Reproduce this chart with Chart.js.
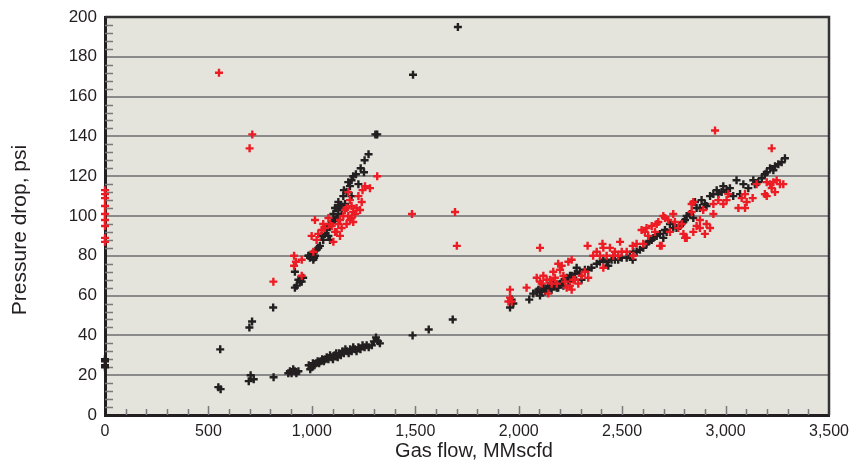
<!DOCTYPE html>
<html>
<head>
<meta charset="utf-8">
<script src="https://cdn.jsdelivr.net/npm/chart.js@4.4.1/dist/chart.umd.min.js"></script>
<style>
  body { margin: 0; background: #fff; }
  canvas { display: block; }
</style>
</head>
<body>
<canvas id="dropChart" width="849" height="461"></canvas>
<script>
// flow (MMscfd), pressure drop (psi)
const blackAxis = [[0, 28], [0, 27], [0, 25], [0, 24]];
const blackStray = [[548, 14], [559, 13], [557, 33], [695, 17], [704, 20], [719, 18], [698, 44], [711, 47],
    [813, 54], [815, 19], [1487, 40], [1565, 43], [1681, 48], [1489, 171], [1706, 195]];
const blackLow = [[886, 21], [894, 22], [902, 21], [910, 23], [918, 22], [925, 21], [935, 22],
    [985, 25], [992, 23], [999, 24], [1005, 26], [1012, 25], [1020, 26], [1028, 27], [1035, 26], [1042, 27],
    [1050, 28], [1058, 27], [1065, 28], [1072, 29], [1080, 28], [1088, 30], [1095, 29], [1102, 28], [1110, 30],
    [1118, 31], [1125, 29], [1132, 31], [1140, 30], [1148, 32], [1155, 31], [1162, 33], [1170, 32], [1178, 31],
    [1185, 33], [1192, 32], [1200, 34], [1208, 33], [1216, 32], [1225, 34], [1235, 33], [1245, 35], [1255, 34],
    [1265, 35], [1275, 34], [1290, 35], [1300, 37], [1310, 39], [1320, 37], [1329, 36]];
const blackSteep = [[918, 72], [918, 64], [927, 65], [935, 68], [943, 67], [951, 67], [958, 69], [983, 80],
    [987, 80], [991, 79], [999, 80], [1003, 81], [1007, 78], [1011, 79], [1015, 80], [1023, 83], [1031, 84],
    [1039, 85], [1047, 90], [1055, 88], [1063, 91], [1072, 93], [1080, 90], [1088, 95], [1088, 88], [1096, 97],
    [1104, 101], [1112, 98], [1112, 104], [1120, 104], [1120, 99], [1128, 107], [1128, 101], [1136, 105],
    [1144, 103], [1152, 110], [1155, 113], [1160, 106], [1168, 112], [1176, 117], [1184, 115], [1192, 118],
    [1192, 110], [1200, 120], [1213, 121], [1225, 116], [1236, 124], [1252, 122], [1255, 128], [1274, 131],
    [1307, 141], [1316, 141]];
const blackHigh = [[1958, 54], [1974, 56], [1966, 58], [2051, 58], [2070, 61], [2087, 62], [2095, 63],
    [2103, 60], [2111, 62], [2119, 64], [2127, 62], [2135, 63], [2143, 65], [2151, 64], [2159, 63], [2167, 66],
    [2175, 65], [2184, 64], [2191, 64], [2200, 66], [2208, 67], [2216, 65], [2224, 68], [2232, 69], [2240, 67],
    [2248, 70], [2256, 70], [2264, 69], [2272, 71], [2280, 74], [2296, 72], [2304, 68], [2320, 73], [2336, 73],
    [2352, 74], [2377, 76], [2393, 77], [2409, 78], [2425, 77], [2433, 75], [2449, 78], [2465, 78], [2481, 78],
    [2498, 79], [2522, 79], [2538, 80], [2554, 82], [2551, 78], [2570, 82], [2586, 83], [2602, 84], [2618, 86],
    [2627, 87], [2643, 88], [2651, 89], [2667, 90], [2683, 91], [2699, 89], [2707, 93], [2715, 92], [2731, 96],
    [2747, 94], [2763, 94], [2780, 95], [2796, 97], [2804, 98], [2812, 100], [2828, 101], [2844, 99], [2852, 107],
    [2860, 104], [2876, 104], [2884, 108], [2900, 106], [2908, 105], [2925, 110], [2941, 111], [2957, 113],
    [2965, 111], [2981, 112], [2989, 115], [3005, 113], [3021, 114], [3037, 110], [3053, 118], [3070, 111],
    [3086, 116], [3110, 114], [3134, 118], [3142, 116], [3158, 117], [3175, 119], [3190, 121], [3199, 122],
    [3215, 124], [3231, 123], [3239, 125], [3255, 126], [3271, 127], [3287, 129]];

const redAxis = [[0, 113], [0, 111], [0, 109], [0, 105], [0, 101], [0, 98], [0, 95], [0, 89], [0, 87]];
const redStray = [[551, 172], [712, 141], [699, 134], [814, 67], [1316, 120], [1484, 101], [1701, 85],
    [1692, 102], [2103, 84], [2949, 143], [3223, 134]];
const redSteep = [[914, 80], [923, 77], [914, 75], [951, 78], [951, 70], [999, 90], [1007, 82], [1015, 98],
    [1023, 88], [1031, 91], [1047, 93], [1055, 96], [1063, 94], [1080, 99], [1088, 96], [1096, 95], [1104, 87],
    [1112, 92], [1120, 92], [1128, 96], [1136, 98], [1136, 90], [1144, 94], [1152, 100], [1160, 103], [1168, 104],
    [1168, 96], [1176, 100], [1176, 112], [1184, 108], [1184, 98], [1192, 105], [1192, 99], [1200, 102],
    [1200, 97], [1209, 101], [1216, 104], [1225, 110], [1233, 103], [1241, 107], [1245, 113], [1257, 115],
    [1281, 114]];
const redHigh = [[1950, 57], [1958, 59], [1966, 57], [1958, 63], [2038, 64], [2087, 69], [2103, 67],
    [2119, 70], [2111, 66], [2135, 68], [2143, 61], [2151, 68], [2159, 66], [2167, 72], [2175, 69], [2184, 66],
    [2191, 76], [2200, 73], [2208, 75], [2216, 70], [2224, 67], [2232, 64], [2240, 77], [2248, 65], [2256, 78],
    [2256, 63], [2264, 68], [2272, 68], [2288, 66], [2304, 70], [2320, 72], [2336, 69], [2333, 85], [2360, 80],
    [2377, 82], [2393, 80], [2405, 86], [2409, 84], [2409, 74], [2425, 80], [2441, 84], [2457, 80], [2465, 82],
    [2481, 80], [2490, 87], [2498, 82], [2522, 82], [2551, 85], [2554, 80], [2570, 86], [2594, 93], [2602, 86],
    [2610, 92], [2618, 94], [2626, 90], [2643, 95], [2659, 92], [2667, 96], [2675, 97], [2683, 85], [2691, 85],
    [2699, 100], [2707, 99], [2723, 98], [2731, 92], [2747, 101], [2755, 97], [2771, 94], [2788, 96], [2796, 91],
    [2804, 89], [2812, 89], [2836, 102], [2836, 106], [2844, 107], [2844, 92], [2860, 95], [2876, 98], [2876, 94],
    [2892, 103], [2900, 91], [2908, 96], [2925, 94], [2941, 106], [2941, 101], [2965, 108], [2989, 106],
    [3005, 108], [3013, 111], [3062, 104], [3078, 109], [3094, 111], [3094, 104], [3102, 107], [3131, 109],
    [3150, 116], [3190, 111], [3199, 117], [3199, 110], [3215, 116], [3223, 114], [3231, 117], [3239, 112],
    [3247, 118], [3263, 116], [3279, 116]];

const flowTicks = [0, 500, 1000, 1500, 2000, 2500, 3000, 3500];
const dropTicks = [0, 20, 40, 60, 80, 100, 120, 140, 160, 180, 200];
const flowTitle = 'Gas flow, MMscfd';
const dropTitle = 'Pressure drop, psi';

const toPoints = (...groups) => groups.flat().map(([x, y]) => ({ x, y }));

// plot background, inward tick marks, top/right frame, axis titles
const plotFrame = {
    id: 'plotFrame',
    beforeDraw(chart) {
        const { ctx, chartArea: a } = chart;
        ctx.save();
        ctx.fillStyle = '#e4e4dc';
        ctx.fillRect(a.left, a.top, a.right - a.left, a.bottom - a.top);
        ctx.restore();
    },
    beforeDatasetsDraw(chart) {
        const { ctx, chartArea: a, scales: { x, y } } = chart;
        ctx.save();
        ctx.strokeStyle = '#7a7a7a';
        ctx.lineWidth = 1.5;
        ctx.beginPath();
        for (let v = 4; v < 200; v += 4) {
            if (v % 20 === 0) continue;
            const py = Math.round(y.getPixelForValue(v)) + 0.5;
            ctx.moveTo(a.left, py);
            ctx.lineTo(a.left + 8, py);
        }
        for (let v = 100; v < 3500; v += 100) {
            const px = Math.round(x.getPixelForValue(v)) + 0.5;
            ctx.moveTo(px, a.bottom);
            ctx.lineTo(px, a.bottom - (v % 500 === 0 ? 9 : 6));
        }
        ctx.stroke();
        ctx.strokeStyle = '#333';
        ctx.lineWidth = 2.5;
        ctx.beginPath();
        ctx.moveTo(a.left, a.top);
        ctx.lineTo(a.right, a.top);
        ctx.lineTo(a.right, a.bottom);
        ctx.stroke();
        ctx.restore();
    },
    afterDraw(chart) {
        const { ctx, chartArea: a } = chart;
        ctx.save();
        ctx.fillStyle = '#231f20';
        ctx.textAlign = 'center';
        ctx.textBaseline = 'middle';
        ctx.font = "20px 'Liberation Sans', Arial";
        ctx.fillText(flowTitle, (a.left + a.right) / 2 + 7, chart.height - 10);
        ctx.translate(20, (a.top + a.bottom) / 2 + 14);
        ctx.rotate(-Math.PI / 2);
        ctx.font = "21px 'Liberation Sans', Arial";
        ctx.fillText(dropTitle, 0, 0);
        ctx.restore();
    }
};

const ctx = document.getElementById('dropChart').getContext('2d');
new Chart(ctx, {
    type: 'scatter',
    data: {
        datasets: [{
            label: 'red',
            data: toPoints(redAxis, redStray, redSteep, redHigh),
            pointStyle: 'cross',
            radius: 4,
            borderWidth: 2.4,
            borderColor: '#ed1c24',
            clip: false
        }, {
            label: 'black',
            data: toPoints(blackAxis, blackStray, blackLow, blackSteep, blackHigh),
            pointStyle: 'cross',
            radius: 4,
            borderWidth: 2.4,
            borderColor: '#231f20',
            clip: false
        }]
    },
    options: {
        responsive: false,
        animation: false,
        layout: { padding: { top: 17, right: 20, left: 0, bottom: 0 } },
        plugins: {
            legend: { display: false },
            tooltip: { enabled: false }
        },
        scales: {
            x: {
                type: 'linear',
                min: 0,
                max: 3500,
                afterFit: s => { s.height = 46; s.paddingLeft = 0; s.paddingRight = 0; },
                afterBuildTicks: s => { s.ticks = flowTicks.map(value => ({ value })); },
                ticks: {
                    padding: 7,
                    color: '#231f20',
                    font: { family: "'Liberation Sans', Arial", size: 16 },
                    callback: v => v.toLocaleString('en-US')
                },
                grid: { display: false, drawTicks: false },
                border: { color: '#231f20', width: 3 }
            },
            y: {
                min: 0,
                max: 200,
                afterFit: s => { s.width = 105; s.paddingTop = 0; s.paddingBottom = 0; },
                afterBuildTicks: s => { s.ticks = dropTicks.map(value => ({ value })); },
                ticks: {
                    padding: 8,
                    color: '#231f20',
                    font: { family: "'Liberation Sans', Arial", size: 17 }
                },
                grid: { color: '#8a8a8a', lineWidth: 2, drawTicks: false },
                border: { color: '#231f20', width: 3 }
            }
        }
    },
    plugins: [plotFrame]
});
</script>
</body>
</html>
